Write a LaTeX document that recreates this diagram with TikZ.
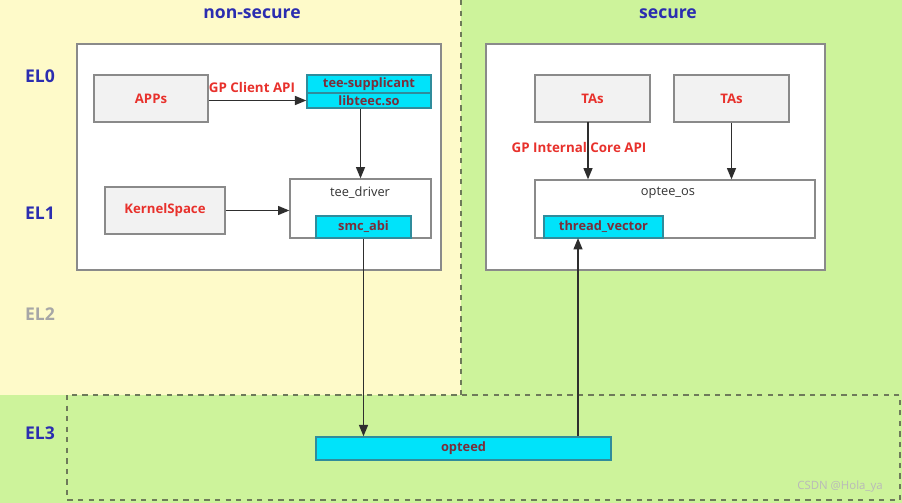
\documentclass[tikz,border=0pt]{standalone}
\usepackage{fontspec}
\setmainfont{Open Sans}
\usetikzlibrary{arrows.meta}
\definecolor{ylw}{HTML}{FEFAC9}
\definecolor{grn}{HTML}{CDF39B}
\definecolor{dashc}{HTML}{6E7A5A}
\definecolor{boxline}{HTML}{8A8A8A}
\definecolor{grayfill}{HTML}{F2F2F2}
\definecolor{cyanfill}{HTML}{00E3FA}
\definecolor{cyanline}{HTML}{2F8C9C}
\definecolor{redtxt}{HTML}{E8312C}
\definecolor{bluetxt}{HTML}{2B2DB0}
\definecolor{cyantxt}{HTML}{7A2E3A}
\definecolor{arrc}{HTML}{2E2E2E}
\begin{document}
\begin{tikzpicture}[x=0.02cm,y=-0.02cm,
  sz/.style 2 args={minimum width=#1*0.02cm, minimum height=#2*0.02cm},
  whitebox/.style={inner sep=0pt, draw=boxline, line width=0.6pt, fill=white},
  graybox/.style={inner sep=0pt, draw=boxline, line width=0.6pt, fill=grayfill, text=redtxt, font=\fontsize{7.5}{8}\selectfont\bfseries},
  cyanbox/.style={inner sep=0pt, draw=cyanline, line width=0.7pt, fill=cyanfill, text=cyantxt, font=\fontsize{7.3}{8}\selectfont\bfseries},
  title/.style={text=bluetxt, font=\fontsize{10}{11}\selectfont\bfseries},
  ellab/.style={text=bluetxt, font=\fontsize{10}{11}\selectfont\bfseries},
  apilab/.style={text=redtxt, font=\fontsize{7.6}{8}\selectfont\bfseries},
  plainlab/.style={text=black!80, font=\fontsize{7.3}{8}\selectfont},
  arr/.style={draw=arrc, line width=1.1pt, -{Triangle[length=6.5pt,width=5pt]}}
]
\useasboundingbox (0,0) rectangle (902,503);
% backgrounds
\fill[ylw] (0,0) rectangle (461,395);
\fill[grn] (461,0) rectangle (902,395);
\fill[grn] (0,395) rectangle (902,503);
\draw[dashc, dashed, line width=0.6pt] (461,0) -- (461,395);
\draw[dashc, dashed, line width=0.6pt] (67,395) rectangle (900,500);

% titles
\node[title] (tns) at (252,14) {non-secure};
\node[title] (ts) at (668,14) {secure};
\node[ellab] (el0) at (40,76) {EL0};
\node[ellab] (el1) at (40,213) {EL1};
\node[ellab, text=black!35] (el2) at (40,314) {EL2};
\node[ellab] (el3) at (40,433) {EL3};

% outer white boxes
\node[whitebox, sz={364}{226}] (ns) at (259,157) {};
\node[whitebox, sz={339}{226}] (sec) at (655.5,157) {};

% non-secure content
\node[graybox, sz={114}{47}] (apps) at (151,98.5) {APPs};
\node[cyanbox, sz={124}{18}] (supp) at (369,84) {tee-supplicant};
\node[cyanbox, sz={124}{15}] (libteec) at (369,100.5) {libteec.so};
\node[whitebox, sz={141}{59}] (tdriver) at (360.5,208.5) {};
\node[plainlab] (tdlab) at (360,193) {tee\_driver};
\node[cyanbox, sz={95}{22}] (smc) at (363.5,227) {smc\_abi};
\node[graybox, sz={120}{47}] (kernel) at (165,210.5) {KernelSpace};

% secure content
\node[graybox, sz={115}{47}] (ta1) at (592.5,98.5) {TAs};
\node[graybox, sz={115}{47}] (ta2) at (731.5,98.5) {TAs};
\node[whitebox, sz={280}{58}] (os) at (675,209) {};
\node[plainlab] (oslab) at (668,193) {optee\_os};
\node[cyanbox, sz={119}{22}] (tv) at (603.5,227) {thread\_vector};

% EL3
\node[cyanbox, sz={295}{23}] (opteed) at (463.5,448.5) {opteed};

% labels
\node[apilab] (gpc) at (252,87) {GP Client API};
\node[apilab] (gpi) at (579,147) {GP Internal Core API};

% connectors
\draw[arr] (apps.east |- libteec.west) -- (libteec.west);
\draw[arr] (libteec.south -| tdriver.north) -- (tdriver.north);
\draw[arr] (kernel.east) -- (kernel.east -| tdriver.west);
\draw[arr] (smc.south) -- (smc.south |- opteed.north);
\coordinate (tvb) at (578,238);
\draw[arr] (tvb |- opteed.north) -- (tvb);
\coordinate (ta1b) at (588,122);
\draw[arr] (ta1b) -- (ta1b |- os.north);
\draw[arr] (ta2.south) -- (ta2.south |- os.north);

% watermark
\node[text=white!45!gray, font=\fontsize{6.5}{7}\selectfont] (wm) at (840,487) {CSDN @Hola\_ya};
\end{tikzpicture}
\end{document}
